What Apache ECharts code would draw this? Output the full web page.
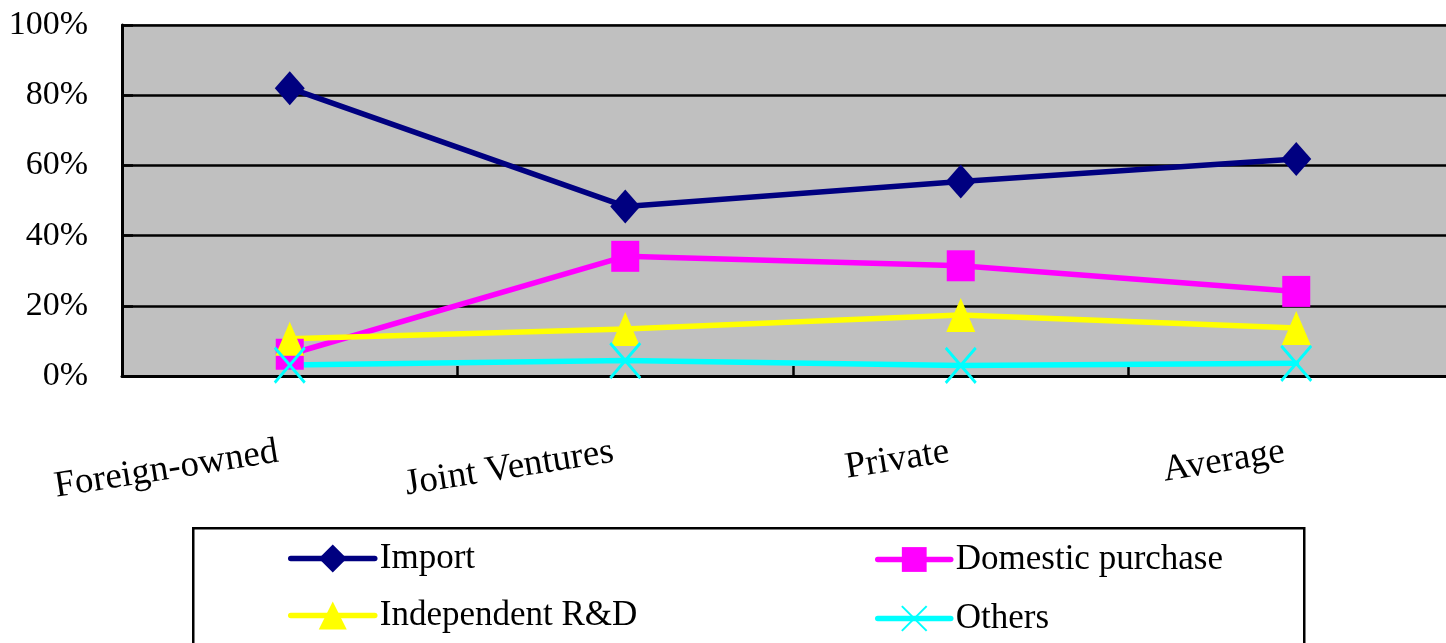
<!DOCTYPE html>
<html>
<head>
<meta charset="utf-8">
<title>Sources of technology by ownership type</title>
<script src="https://cdn.jsdelivr.net/npm/echarts@6/dist/echarts.min.js"></script>
<style>
  html, body { margin: 0; padding: 0; background: #ffffff; }
  #chart { width: 1446px; height: 643px; }
</style>
</head>
<body>
<div id="chart"></div>
<script>
// Ownership categories along the x axis
const categories = ['Foreign-owned', 'Joint Ventures', 'Private', 'Average'];

// Share of technology source, in percent
const importShare = [82.0, 48.3, 55.4, 61.8];
const domesticShare = [6.2, 34.1, 31.4, 24.1];
const independentShare = [10.6, 13.4, 17.4, 13.7];
const othersShare = [3.1, 4.4, 3.0, 3.6];

// Y axis ticks (percent)
const yTicks = { min: 0, max: 100, step: 20 };

const serif = '"Liberation Serif", "Times New Roman", serif';

const chart = echarts.init(document.getElementById('chart'), null, { renderer: 'canvas' });

function lineSeries(name, data, color, symbol, size, extraItem) {
  return {
    name: name,
    type: 'line',
    data: data,
    clip: false,
    symbol: symbol,
    symbolSize: size,
    showAllSymbol: true,
    lineStyle: { color: color, width: 5.5, cap: 'round' },
    itemStyle: Object.assign({ color: color, opacity: 1 }, extraItem || {}),
    emphasis: { disabled: true }
  };
}

const legendText = { color: '#000000', fontFamily: serif, fontSize: 35 };
const legendLine = { width: 5.5, cap: 'round' };

chart.setOption({
  animation: false,
  backgroundColor: '#ffffff',
  textStyle: { fontFamily: serif },
  grid: {
    left: 122,
    top: 25,
    width: 1342,
    height: 351,
    outerBoundsMode: 'none',
    containLabel: false,
    show: true,
    backgroundColor: '#c0c0c0',
    borderColor: '#808080',
    borderWidth: 2
  },
  xAxis: {
    type: 'category',
    data: categories,
    boundaryGap: true,
    axisLine: { show: true, lineStyle: { color: '#000000', width: 3 } },
    axisTick: { show: true, inside: true, length: 10, lineStyle: { color: '#000000', width: 2.5 } },
    axisLabel: {
      rotate: 9,
      margin: 74,
      interval: 0,
      padding: [0, 12, 0, 0],
      color: '#000000',
      fontFamily: serif,
      fontSize: 37
    },
    splitLine: { show: false }
  },
  yAxis: {
    type: 'value',
    min: yTicks.min,
    max: yTicks.max,
    interval: yTicks.step,
    axisLine: { show: true, lineStyle: { color: '#000000', width: 3 } },
    axisTick: { show: true, inside: true, length: 11, lineStyle: { color: '#000000', width: 2.5 } },
    axisLabel: {
      formatter: '{value}%',
      margin: 34,
      color: '#000000',
      fontFamily: serif,
      fontSize: 34
    },
    splitLine: { show: true, lineStyle: { color: '#000000', width: 2.5 } }
  },
  legend: [
    {
      data: ['Import', 'Independent R&D'],
      orient: 'vertical',
      left: 288,
      top: 541,
      padding: 0,
      itemWidth: 84,
      itemHeight: 35,
      itemGap: 22,
      selectedMode: false,
      lineStyle: legendLine,
      textStyle: legendText
    },
    {
      data: ['Domestic purchase', 'Others'],
      orient: 'vertical',
      left: 875,
      top: 542,
      padding: 0,
      itemWidth: 73,
      itemHeight: 31,
      itemGap: 24,
      selectedMode: false,
      lineStyle: legendLine,
      textStyle: legendText
    }
  ],
  graphic: [
    {
      type: 'rect',
      z: 0,
      left: 192,
      top: 527,
      shape: { width: 1111, height: 200 },
      style: { fill: '#ffffff', stroke: '#000000', lineWidth: 2.5 }
    }
  ],
  series: [
    lineSeries('Import', importShare, '#000080', 'diamond', [30, 34]),
    lineSeries('Domestic purchase', domesticShare, '#ff00ff', 'rect', [28, 31]),
    lineSeries('Independent R&D', independentShare, '#ffff00', 'triangle', [29, 34]),
    lineSeries('Others', othersShare, '#00ffff', 'path://M0,0L30,34M30,0L0,34', [30, 35],
      { borderColor: '#00ffff', borderWidth: 3 })
  ]
});
</script>
</body>
</html>
